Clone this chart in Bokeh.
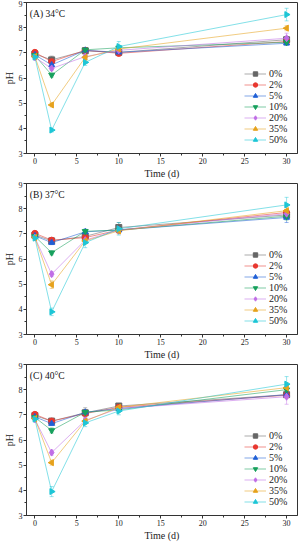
import math
from bokeh.plotting import figure
from bokeh.layouts import column
from bokeh.models import (Range1d, SingleIntervalTicker, Legend, LegendItem, Label,
                          ColumnDataSource, Whisker, TeeHead)
from bokeh.embed import file_html
from bokeh.resources import INLINE

days = [0, 2, 6, 10, 30]
series = ["0%", "2%", "5%", "10%", "20%", "35%", "50%"]
panel_titles = ["(A) 34°C", "(B) 37°C", "(C) 40°C"]

ph_34 = [
    [6.95, 6.72, 7.08, 7.02, 7.52],
    [7.02, 6.65, 7.10, 6.98, 7.45],
    [6.92, 6.52, 7.10, 7.02, 7.38],
    [6.90, 6.12, 7.12, 7.20, 7.42],
    [6.82, 6.38, 6.85, 7.10, 7.58],
    [6.85, 4.93, 6.82, 7.15, 7.98],
    [6.83, 3.93, 6.62, 7.25, 8.52],
]
err_34 = [
    [0.05, 0.15, 0.10, 0.10, 0.12],
    [0.05, 0.10, 0.10, 0.12, 0.10],
    [0.05, 0.10, 0.08, 0.08, 0.08],
    [0.05, 0.08, 0.08, 0.10, 0.10],
    [0.05, 0.08, 0.10, 0.08, 0.20],
    [0.05, 0.08, 0.08, 0.10, 0.10],
    [0.05, 0.08, 0.12, 0.20, 0.25],
]
ph_37 = [
    [6.95, 6.72, 6.90, 7.25, 7.75],
    [7.02, 6.75, 6.85, 7.15, 7.85],
    [6.92, 6.65, 7.08, 7.15, 7.65],
    [6.90, 6.25, 7.10, 7.15, 7.70],
    [6.85, 5.40, 6.75, 7.15, 7.80],
    [6.85, 4.98, 6.72, 7.12, 7.92],
    [6.83, 3.90, 6.65, 7.20, 8.15],
]
err_37 = [
    [0.05, 0.08, 0.10, 0.20, 0.15],
    [0.05, 0.08, 0.10, 0.15, 0.12],
    [0.05, 0.08, 0.10, 0.10, 0.20],
    [0.05, 0.08, 0.08, 0.10, 0.15],
    [0.05, 0.10, 0.10, 0.10, 0.15],
    [0.05, 0.15, 0.10, 0.10, 0.15],
    [0.05, 0.15, 0.20, 0.25, 0.30],
]
ph_40 = [
    [6.97, 6.75, 7.08, 7.35, 7.80],
    [7.02, 6.75, 7.05, 7.30, 7.78],
    [6.92, 6.65, 7.10, 7.25, 7.80],
    [6.90, 6.38, 7.10, 7.20, 8.00],
    [6.82, 5.50, 6.78, 7.25, 7.72],
    [6.85, 5.10, 6.75, 7.30, 8.08],
    [6.83, 3.95, 6.68, 7.15, 8.22],
]
err_40 = [
    [0.05, 0.10, 0.20, 0.10, 0.10],
    [0.05, 0.12, 0.10, 0.10, 0.10],
    [0.05, 0.08, 0.10, 0.10, 0.10],
    [0.05, 0.10, 0.10, 0.10, 0.15],
    [0.05, 0.10, 0.10, 0.10, 0.30],
    [0.05, 0.10, 0.10, 0.10, 0.20],
    [0.05, 0.20, 0.15, 0.15, 0.30],
]

colors = ["#666666", "#e8372f", "#1f5fd6", "#17a05d", "#c06ee6", "#e6a21c", "#1dc6d6"]
markers = ["square", "circle", "triangle", "inverted_triangle", "diamond", "triangle", "triangle"]
angles = [0, 0, 0, 0, 0, math.pi / 2, -math.pi / 2]
sizes = [6, 6, 6, 6, 7, 6, 6]

FONT = "Liberation Serif"


def make_panel(title, data, errs):
    p = figure(frame_width=271, frame_height=151, output_backend="svg", toolbar_location=None,
               x_range=Range1d(-1, 31.3), y_range=Range1d(3, 9),
               min_border_left=0, min_border_right=2, min_border_top=2, min_border_bottom=0)
    p.border_fill_color = "white"
    p.xgrid.visible = False
    p.ygrid.visible = False
    p.outline_line_color = "#333333"
    p.outline_line_width = 1
    p.background_fill_color = "white"

    p.xaxis.ticker = SingleIntervalTicker(interval=5, num_minor_ticks=2)
    p.yaxis.ticker = SingleIntervalTicker(interval=1, num_minor_ticks=2)
    for ax in (p.xaxis[0], p.yaxis[0]):
        ax.major_tick_in = 0
        ax.major_tick_out = 3
        ax.minor_tick_in = 0
        ax.minor_tick_out = 2
        ax.axis_line_color = "#333333"
        ax.major_tick_line_color = "#333333"
        ax.minor_tick_line_color = "#333333"
        ax.major_label_text_font = FONT
        ax.major_label_text_font_size = "8px"
        ax.major_label_text_color = "#222222"
        ax.axis_label_text_font = FONT
        ax.axis_label_text_font_size = "10px"
        ax.axis_label_text_font_style = "normal"
        ax.axis_label_text_color = "#222222"
        ax.major_label_standoff = 1
        ax.axis_label_standoff = 1
    p.xaxis.axis_label = "Time (d)"
    p.yaxis.axis_label = "pH"

    items = []
    for i, name in enumerate(series):
        src = ColumnDataSource(dict(
            x=days, y=data[i],
            upper=[v + e for v, e in zip(data[i], errs[i])],
            lower=[v - e for v, e in zip(data[i], errs[i])]))
        w = Whisker(source=src, base="x", upper="upper", lower="lower", dimension="height",
                    line_color=colors[i], line_alpha=0.45, line_width=1,
                    upper_head=TeeHead(size=4, line_color=colors[i], line_alpha=0.45),
                    lower_head=TeeHead(size=4, line_color=colors[i], line_alpha=0.45))
        p.add_layout(w)
        ln = p.line("x", "y", source=src, line_color=colors[i], line_alpha=0.55, line_width=1)
        sc = p.scatter("x", "y", source=src, marker=markers[i], angle=angles[i],
                       size=sizes[i], fill_color=colors[i], line_color=colors[i])
        items.append(LegendItem(label=name, renderers=[ln, sc]))

    legend = Legend(items=items, location="bottom_right", margin=8, padding=0, spacing=0,
                    glyph_width=22, glyph_height=11, label_height=11, label_standoff=3,
                    label_text_font=FONT, label_text_font_size="10px",
                    label_text_color="#222222",
                    background_fill_alpha=0, border_line_alpha=0)
    p.add_layout(legend)

    p.add_layout(Label(x=-0.6, y=8.75, text=title, text_font=FONT, text_font_size="9.5px",
                       text_baseline="top", text_color="#111111"))
    return p


panels = [make_panel(panel_titles[0], ph_34, err_34),
          make_panel(panel_titles[1], ph_37, err_37),
          make_panel(panel_titles[2], ph_40, err_40)]
layout = column(*panels, spacing=0)

open("out.html", "w").write(file_html(layout, INLINE))
